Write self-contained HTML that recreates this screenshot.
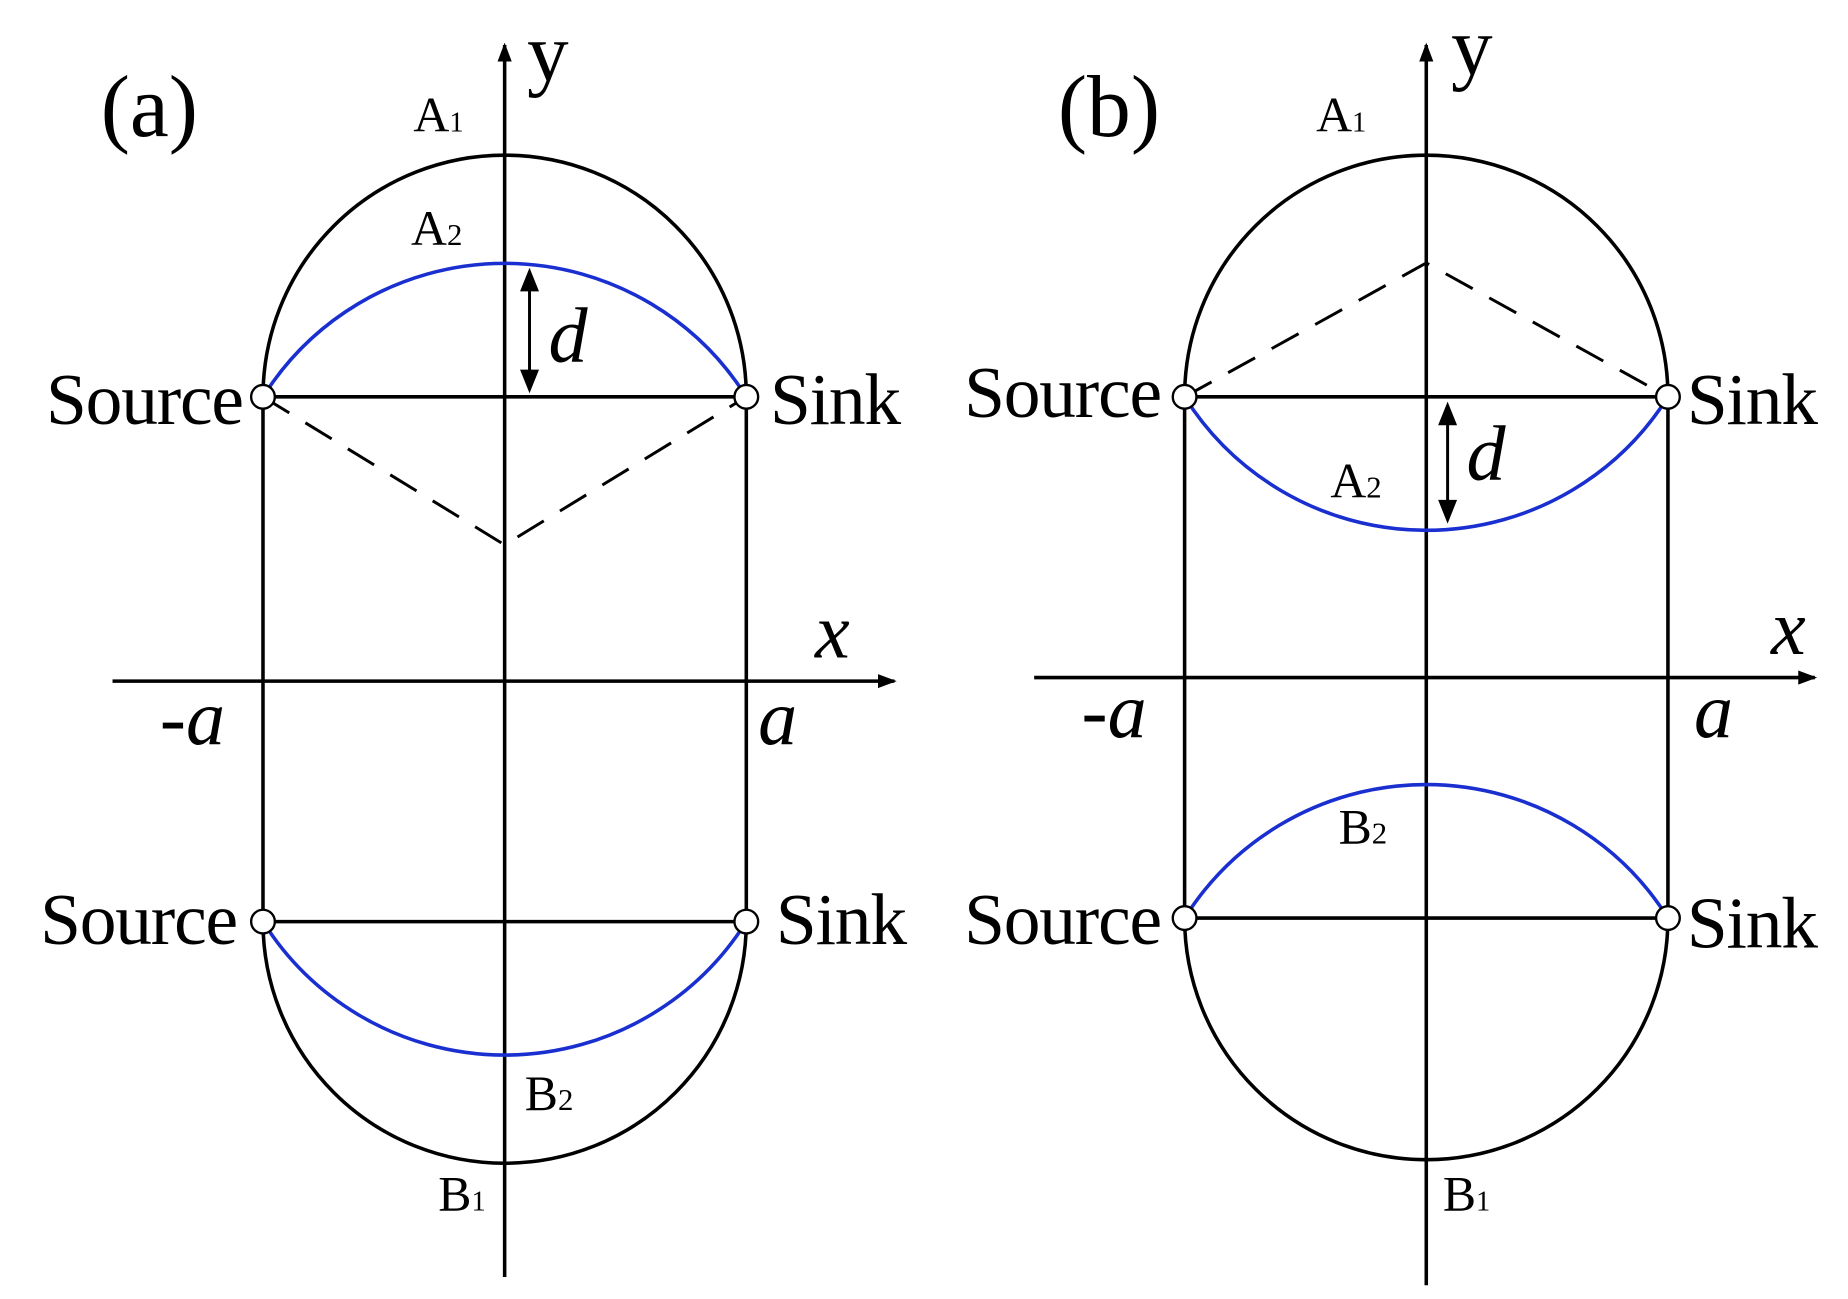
<!DOCTYPE html>
<html><head><meta charset="utf-8"><style>
html,body{margin:0;padding:0;background:#fff;width:1848px;height:1299px;overflow:hidden}
svg{display:block}
text{font-family:"Liberation Serif",serif;fill:#000}
.it{font-style:italic}
</style></head><body>
<svg width="1848" height="1299" viewBox="0 0 1560 1096.6" preserveAspectRatio="none">
<defs>
<marker id="ar2" markerWidth="16" markerHeight="16" refX="14" refY="8" orient="auto" markerUnits="userSpaceOnUse"><path d="M0,2 L16,8 L0,14 Z" fill="#000"/></marker>
</defs>
<g stroke="#000" stroke-width="3" fill="none">
<line x1="426" y1="1078" x2="426" y2="38" marker-end="url(#ar2)"/>
<line x1="95" y1="575" x2="755" y2="575" marker-end="url(#ar2)"/>
<line x1="222" y1="335" x2="222" y2="778"/>
<line x1="630" y1="335" x2="630" y2="778"/>
<line x1="222" y1="335" x2="630" y2="335"/>
<line x1="222" y1="778" x2="630" y2="778"/>
<path d="M222,335 A204,204 0 0 1 630,335"/>
<path d="M222,778 A204,204 0 0 0 630,778"/>
<path d="M222,335 L426,460 L630,335" stroke-dasharray="26,16" stroke-width="2.5"/>
<line x1="447" y1="240" x2="447" y2="318" stroke-width="2.5"/>
<line x1="1204" y1="1085" x2="1204" y2="38" marker-end="url(#ar2)"/>
<line x1="873" y1="572" x2="1532" y2="572" marker-end="url(#ar2)"/>
<line x1="1000" y1="335" x2="1000" y2="775"/>
<line x1="1408" y1="335" x2="1408" y2="775"/>
<line x1="1000" y1="335" x2="1408" y2="335"/>
<line x1="1000" y1="775" x2="1408" y2="775"/>
<path d="M1000,335 A204,204 0 0 1 1408,335"/>
<path d="M1000,775 A204,204 0 0 0 1408,775"/>
<path d="M1000,335 L1204,222 L1408,335" stroke-dasharray="26,16" stroke-width="2.5"/>
<line x1="1222" y1="352" x2="1222" y2="428" stroke-width="2.5"/>
</g>
<g stroke="#1a2fd0" stroke-width="3" fill="none">
<path d="M222,335 A241,241 0 0 1 630,335"/>
<path d="M222,778 A241,241 0 0 0 630,778"/>
<path d="M1000,335 A241,241 0 0 0 1408,335"/>
<path d="M1000,775 A241,241 0 0 1 1408,775"/>
</g>
<g fill="#000">
<path d="M447,226 L439,246 L455,246 Z"/><path d="M447,332 L439,312 L455,312 Z"/>
<path d="M1222,339 L1214,359 L1230,359 Z"/><path d="M1222,442 L1214,422 L1230,422 Z"/>
</g>
<g fill="#fff" stroke="#000" stroke-width="2">
<circle cx="222" cy="335" r="10"/><circle cx="630" cy="335" r="10"/>
<circle cx="222" cy="778" r="10"/><circle cx="630" cy="778" r="10"/>
<circle cx="1000" cy="335" r="10"/><circle cx="1408" cy="335" r="10"/>
<circle cx="1000" cy="775" r="10"/><circle cx="1408" cy="775" r="10"/>
</g>
<g font-size="62" letter-spacing="-1">
<text x="205" y="358" text-anchor="end">Source</text>
<text x="650" y="358">Sink</text>
<text x="200" y="797" text-anchor="end">Source</text>
<text x="655" y="797">Sink</text>
<text x="980" y="352" text-anchor="end">Source</text>
<text x="1424" y="358">Sink</text>
<text x="980" y="797" text-anchor="end">Source</text>
<text x="1424" y="800">Sink</text>
</g>
<g font-size="74">
<text x="85" y="115">(a)</text>
<text x="893" y="115">(b)</text>
</g>
<g font-size="66" class="it">
<text x="463" y="305">d</text>
<text x="1238" y="405">d</text>
<text x="135" y="628">-a</text>
<text x="640" y="628">a</text>
<text x="913" y="622">-a</text>
<text x="1430" y="622">a</text>
<text x="688" y="555">x</text>
<text x="1495" y="552">x</text>
</g>
<g font-size="70">
<text x="445" y="68">y</text>
<text x="1225" y="63">y</text>
</g>
<g font-size="42">
<text x="349" y="111">A<tspan font-size="24">1</tspan></text>
<text x="347" y="207">A<tspan font-size="26">2</tspan></text>
<text x="443" y="937">B<tspan font-size="26">2</tspan></text>
<text x="370" y="1022">B<tspan font-size="24">1</tspan></text>
<text x="1111" y="111">A<tspan font-size="24">1</tspan></text>
<text x="1123" y="420">A<tspan font-size="26">2</tspan></text>
<text x="1130" y="712">B<tspan font-size="26">2</tspan></text>
<text x="1218" y="1022">B<tspan font-size="24">1</tspan></text>
</g>
</svg>
</body></html>
